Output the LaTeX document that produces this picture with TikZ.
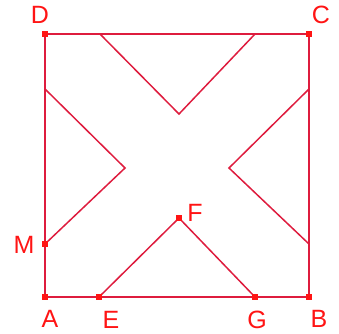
\documentclass[tikz,border=0pt]{standalone}
\usepackage{fontspec}
\setmainfont{Liberation Sans}
\definecolor{lc}{RGB}{222,28,62}
\definecolor{tc}{RGB}{255,20,20}
\begin{document}
\begin{tikzpicture}[x=1pt,y=-1pt,
  seg/.style={draw=lc,line width=1.5pt},
  dot/.style={fill=tc,draw=none,minimum size=6pt,inner sep=0pt,rectangle},
  lab/.style={text=tc,font=\fontsize{25}{25}\selectfont,inner sep=0pt}]
\useasboundingbox (0,0) rectangle (339,333);
\coordinate (A) at (45,297);
\coordinate (B) at (309,297);
\coordinate (C) at (309,34);
\coordinate (D) at (45,34);
\coordinate (M) at (45,244);
\coordinate (E) at (99,297);
\coordinate (F) at (179,218);
\coordinate (G) at (255,297);
\coordinate (T1) at (100,34);
\coordinate (T2) at (179,114);
\coordinate (T3) at (255,34);
\coordinate (L1) at (45,89);
\coordinate (L2) at (125,168);
\coordinate (R1) at (309,89);
\coordinate (R2) at (229,168);
\coordinate (R3) at (309,244);
\draw[seg] (A) -- (B) -- (C) -- (D) -- cycle;
\draw[seg] (T1) -- (T2) -- (T3);
\draw[seg] (L1) -- (L2) -- (M);
\draw[seg] (R1) -- (R2) -- (R3);
\draw[seg] (E) -- (F) -- (G);
\foreach \p in {A,B,C,D,M,E,F,G} \node[dot] (d\p) at (\p) {};
\node[lab] (lA) at (50,319) {A};
\node[lab] (lB) at (319,319) {B};
\node[lab] (lC) at (321,15) {C};
\node[lab] (lD) at (40,15) {D};
\node[lab] (lM) at (24,245) {M};
\node[lab] (lE) at (111,320) {E};
\node[lab] (lG) at (257,320) {G};
\node[lab] (lF) at (195,213) {F};
\end{tikzpicture}
\end{document}
